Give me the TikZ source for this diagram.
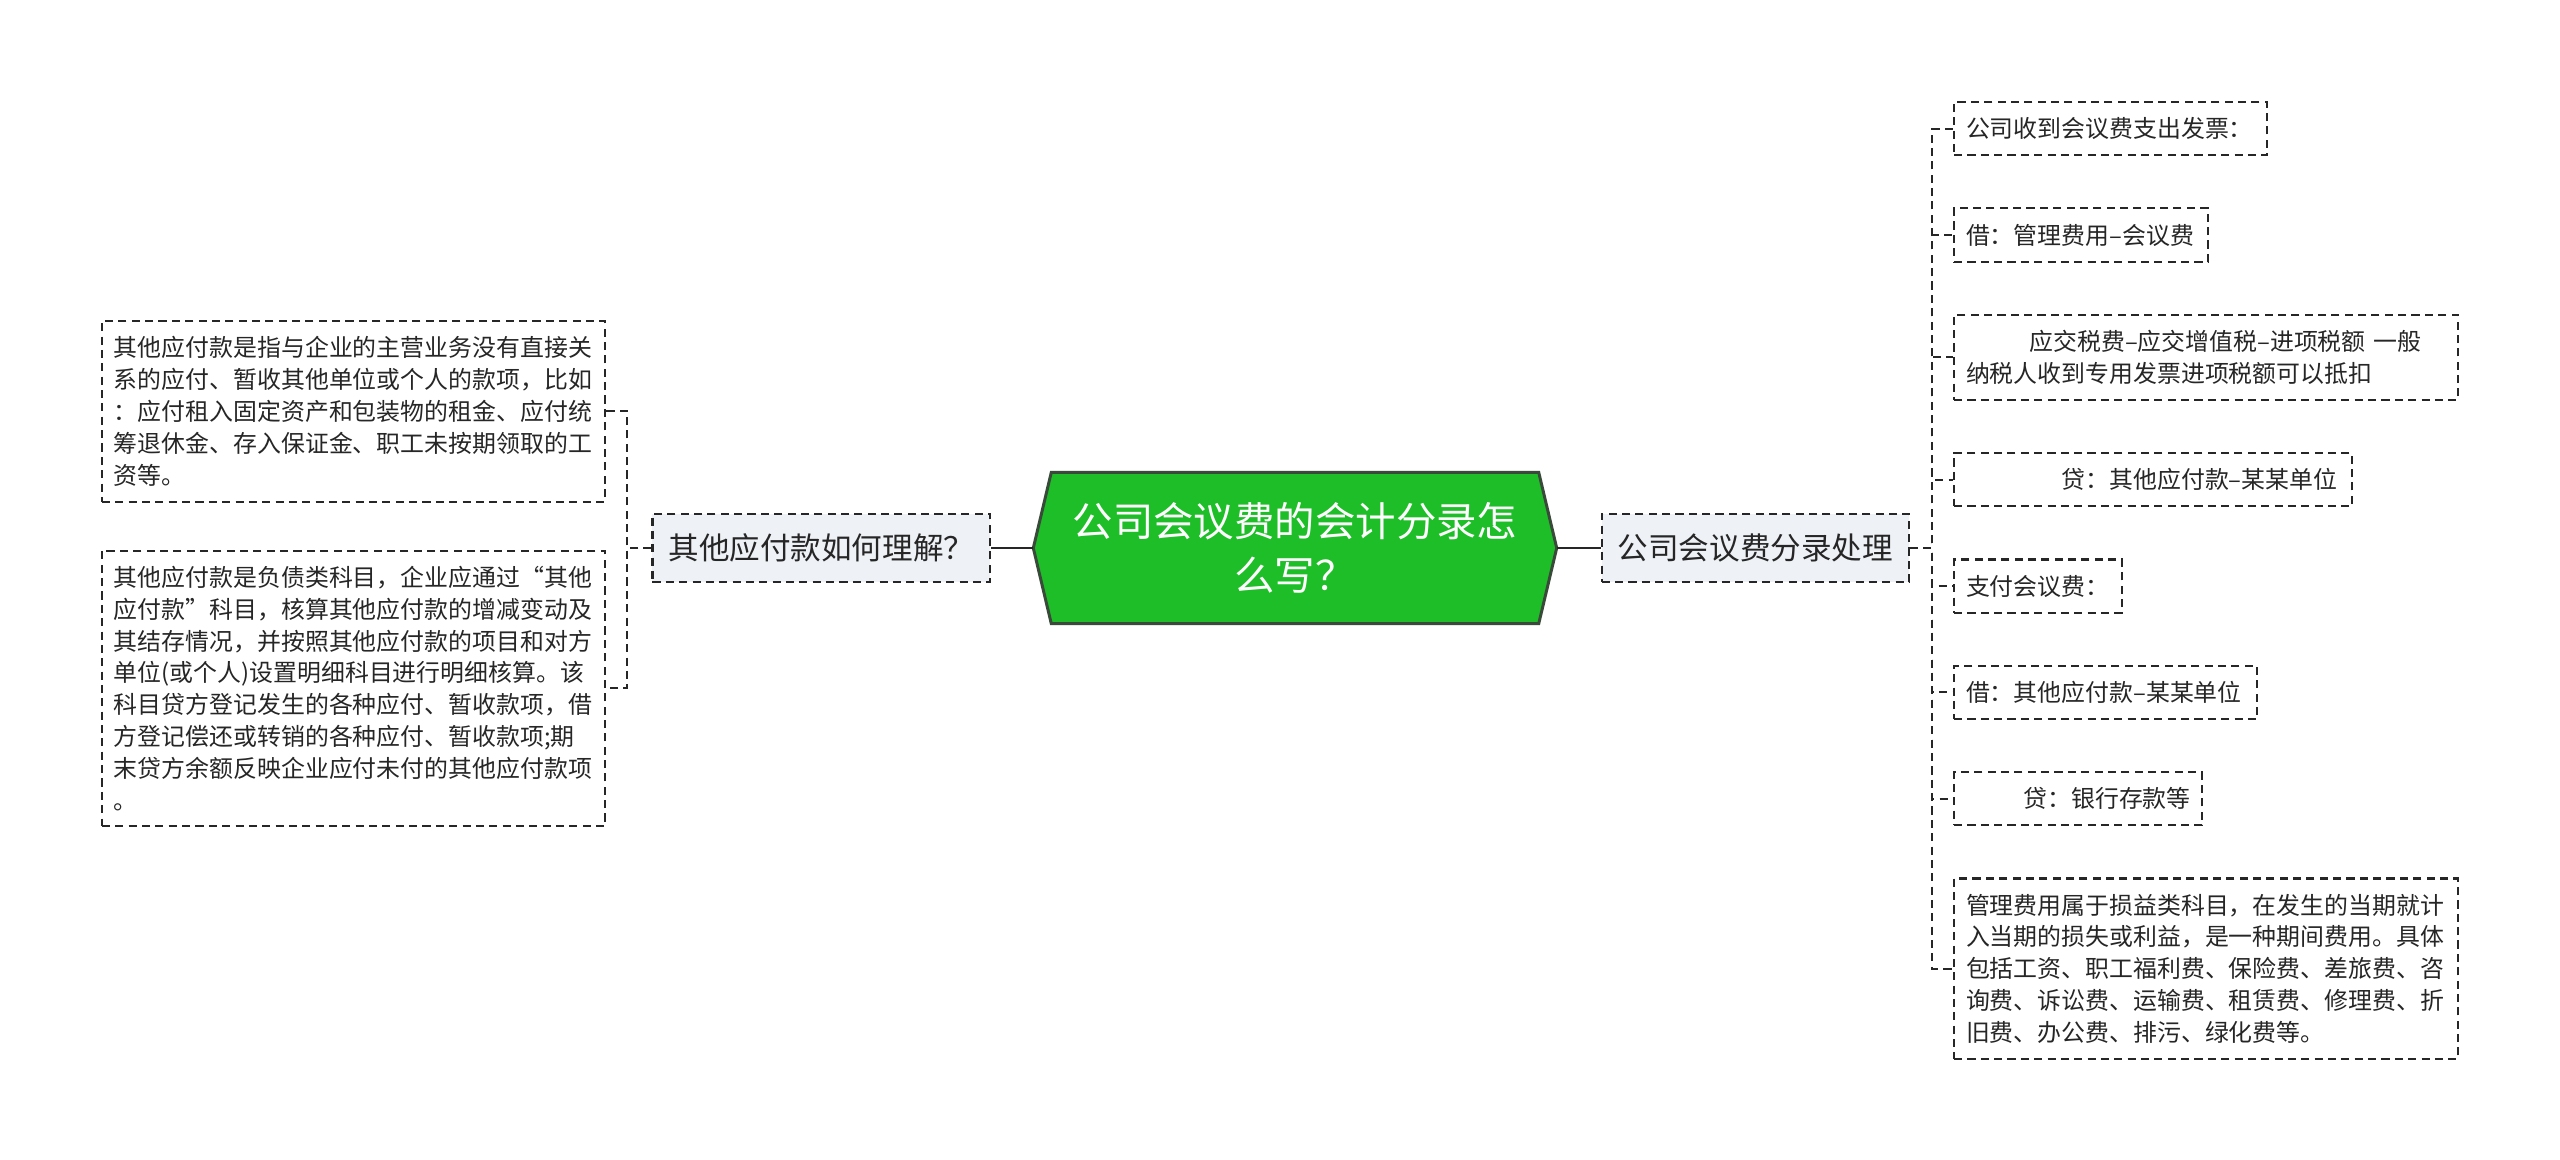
\documentclass[tikz,border=0pt]{standalone}
\usepackage{fontspec}
\setmainfont{Noto Sans CJK SC}
\usepackage{xcolor}
\usetikzlibrary{positioning,backgrounds}
\definecolor{rootgreen}{HTML}{1DBE27}
\definecolor{rootedge}{HTML}{3A4A3A}
\definecolor{midfill}{HTML}{EEF1F5}
\definecolor{inkgray}{HTML}{262626}

\begin{document}
\begin{tikzpicture}[
	rootnode/.style={minimum width=5.22cm,minimum height=1.5cm,inner sep=0pt,align=center,text=white,font=\fontsize{11.5}{15.3}\selectfont},
	rootframe/.style={draw=rootedge,fill=rootgreen,line width=0.85pt,line join=miter},
	midnode/.style={draw=inkgray,fill=midfill,dash pattern=on 2.3pt off 1.5pt,line width=0.6pt,inner xsep=0.16cm,inner ysep=0.2cm,text=inkgray,font=\fontsize{8.7}{11}\selectfont},
	leafnode/.style={draw=inkgray,dash pattern=on 2.3pt off 1.5pt,line width=0.6pt,inner xsep=0.12cm,inner ysep=0.155cm,align=left,text=inkgray,font=\fontsize{6.8}{9.05}\selectfont},
	trunk/.style={draw=inkgray,line width=0.75pt},
	twig/.style={draw=inkgray,dash pattern=on 2.3pt off 1.5pt,line width=0.6pt}
]
	\useasboundingbox (0,0) rectangle (25.6,-11.59);
	\node[rootnode] (root) at (12.95,-5.48) {公司会议费的会计分录怎\\么写？};
	\begin{scope}[on background layer]
		\draw[rootframe] (root.west) -- ([xshift=0.18cm]root.north west) -- ([xshift=-0.18cm]root.north east) -- (root.east) -- ([xshift=-0.18cm]root.south east) -- ([xshift=0.18cm]root.south west) -- cycle;
	\end{scope}
	\node[midnode,left=0.42cm of root] (ask) {其他应付款如何理解？};
	\node[midnode,right=0.44cm of root] (entry) {公司会议费分录处理};

	\node[leafnode,text width=4.79cm,anchor=north east] (l1) at (6.06,-3.20) {其他应付款是指与企业的主营业务没有直接关\\系的应付、暂收其他单位或个人的款项，比如\\：应付租入固定资产和包装物的租金、应付统\\筹退休金、存入保证金、职工未按期领取的工\\资等。};
	\node[leafnode,text width=4.79cm,below=0.47cm of l1.south east,anchor=north east] (l2) {其他应付款是负债类科目，企业应通过“其他\\应付款”科目，核算其他应付款的增减变动及\\其结存情况，并按照其他应付款的项目和对方\\单位(或个人)设置明细科目进行明细核算。该\\科目贷方登记发生的各种应付、暂收款项，借\\方登记偿还或转销的各种应付、暂收款项;期\\末贷方余额反映企业应付未付的其他应付款项\\。};

	\node[leafnode,text width=2.89cm,anchor=north west] (r1) at (19.53,-1.01) {公司收到会议费支出发票：};
	\node[leafnode,text width=2.30cm,below=0.51cm of r1.south west,anchor=north west] (r2) {借：管理费用–会议费};
	\node[leafnode,text width=4.80cm,below=0.51cm of r2.south west,anchor=north west] (r3) {\hspace*{2.65em}应交税费–应交增值税–进项税额 一般\\纳税人收到专用发票进项税额可以抵扣};
	\node[leafnode,text width=3.74cm,below=0.51cm of r3.south west,anchor=north west] (r4) {\hspace*{4em}贷：其他应付款–某某单位};
	\node[leafnode,text width=1.44cm,below=0.51cm of r4.south west,anchor=north west] (r5) {支付会议费：};
	\node[leafnode,text width=2.79cm,below=0.51cm of r5.south west,anchor=north west] (r6) {借：其他应付款–某某单位};
	\node[leafnode,text width=2.24cm,below=0.51cm of r6.south west,anchor=north west] (r7) {\hspace*{2.4em}贷：银行存款等};
	\node[leafnode,text width=4.80cm,below=0.51cm of r7.south west,anchor=north west] (r8) {管理费用属于损益类科目，在发生的当期就计\\入当期的损失或利益，是一种期间费用。具体\\包括工资、职工福利费、保险费、差旅费、咨\\询费、诉讼费、运输费、租赁费、修理费、折\\旧费、办公费、排污、绿化费等。};

	\draw[trunk] (root) -- (ask);
	\draw[trunk] (root) -- (entry);
	\draw[twig] (ask.west) -- ++(-0.24,0) |- (l1.east);
	\draw[twig] (ask.west) -- ++(-0.24,0) |- (l2.east);
	\draw[twig] (entry.east) -- ++(0.22,0) |- (r1.west);
	\draw[twig] (entry.east) -- ++(0.22,0) |- (r2.west);
	\draw[twig] (entry.east) -- ++(0.22,0) |- (r3.west);
	\draw[twig] (entry.east) -- ++(0.22,0) |- (r4.west);
	\draw[twig] (entry.east) -- ++(0.22,0) |- (r5.west);
	\draw[twig] (entry.east) -- ++(0.22,0) |- (r6.west);
	\draw[twig] (entry.east) -- ++(0.22,0) |- (r7.west);
	\draw[twig] (entry.east) -- ++(0.22,0) |- (r8.west);
\end{tikzpicture}
\end{document}
